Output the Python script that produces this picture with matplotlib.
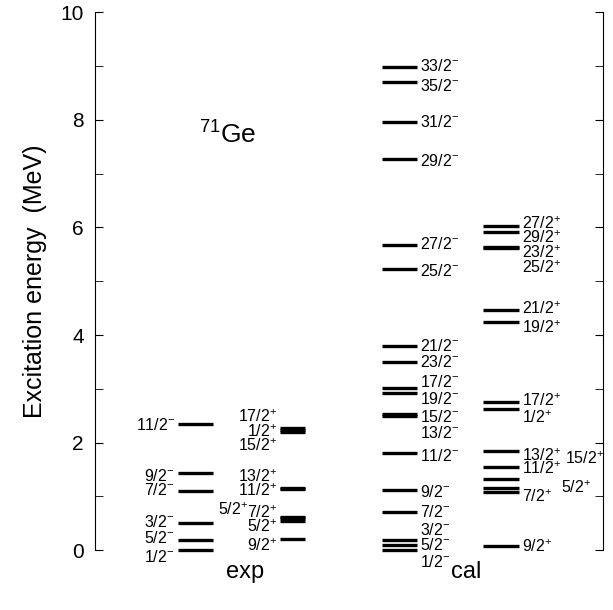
import matplotlib
matplotlib.use('Agg')
import matplotlib.pyplot as plt
from matplotlib.ticker import MultipleLocator

plt.rcParams['font.family'] = ['Liberation Sans', 'DejaVu Sans']
plt.rcParams['mathtext.fontset'] = 'custom'
plt.rcParams['mathtext.rm'] = 'Liberation Sans'
plt.rcParams['mathtext.it'] = 'Liberation Sans'

#%% level data (MeV), label text and label heights

exp_neg_spin = ['11/2', '9/2', '7/2', '3/2', '5/2', '1/2']
exp_neg_e = [2.35, 1.44, 1.10, 0.50, 0.185, 0.0]
exp_neg_lab = [2.32, 1.38, 1.11, 0.53, 0.22, -0.12]

exp_pos_spin = ['17/2', '1/2', '15/2', '13/2', '11/2', '7/2', '5/2', '9/2']
exp_pos_e = [2.27, 2.23, 2.20, 1.15, 1.13, 0.59, 0.55, 0.20]
exp_pos_lab = [2.49, 2.20, 1.95, 1.36, 1.11, 0.69, 0.43, 0.09]

# shifted 5/2+ in the exp column (label pushed to the left)
exp_pos_far_spin = ['5/2']
exp_pos_far_e = [0.62]
exp_pos_far_lab = [0.76]

cal_neg_spin = ['33/2', '35/2', '31/2', '29/2', '27/2', '25/2', '21/2', '23/2',
                '17/2', '19/2', '15/2', '13/2', '11/2', '9/2', '7/2', '3/2', '5/2', '1/2']
cal_neg_e = [8.98, 8.71, 7.95, 7.27, 5.68, 5.23, 3.80, 3.49,
             3.02, 2.93, 2.54, 2.49, 1.81, 1.11, 0.71, 0.19, 0.09, 0.0]
cal_neg_lab = [9.0, 8.63, 7.95, 7.24, 5.69, 5.19, 3.80, 3.49,
               3.12, 2.81, 2.47, 2.17, 1.76, 1.08, 0.71, 0.37, 0.09, -0.22]

cal_pos_spin = ['27/2', '29/2', '23/2', '25/2', '21/2', '19/2', '17/2', '1/2',
                '13/2', '11/2', '7/2', '9/2']
cal_pos_e = [6.02, 5.92, 5.63, 5.62, 4.47, 4.24, 2.75, 2.63,
             1.84, 1.55, 1.08, 0.08]
cal_pos_lab = [6.07, 5.81, 5.53, 5.26, 4.48, 4.14, 2.78, 2.47,
               1.76, 1.52, 0.99, 0.06]

# the two labels pushed out to the right of the cal(+) column
cal_pos_far_spin = ['15/2', '5/2']
cal_pos_far_e = [1.33, 1.16]
cal_pos_far_lab = [1.71, 1.17]

#%% column positions (x axis in arbitrary units)
exp_neg_x = (1.63, 2.32)
exp_pos_x = (3.64, 4.13)
cal_neg_x = (5.65, 6.34)
cal_pos_x = (7.64, 8.35)

fig = plt.figure(figsize=(6.13, 6.10), dpi=100)
ax = fig.add_axes([0.155, 0.098, 0.829, 0.882])

lw = 2.4
fs = 11.5


def draw_levels(energies, spins, lab_e, xr, parity, side, lab_dx=0.06):
    for e in energies:
        ax.plot(xr, [e, e], color='black', lw=lw, solid_capstyle='butt', clip_on=False)
    for s, le in zip(spins, lab_e):
        txt = s + '$^{' + parity + '}$'
        if side == 'left':
            ax.text(xr[0] - lab_dx, le, txt, ha='right', va='center', fontsize=fs)
        else:
            ax.text(xr[1] + lab_dx, le, txt, ha='left', va='center', fontsize=fs)


draw_levels(exp_neg_e, exp_neg_spin, exp_neg_lab, exp_neg_x, '-', 'left')
draw_levels(exp_pos_e, exp_pos_spin, exp_pos_lab, exp_pos_x, '+', 'left')
draw_levels(cal_neg_e, cal_neg_spin, cal_neg_lab, cal_neg_x, '-', 'right')
draw_levels(cal_pos_e, cal_pos_spin, cal_pos_lab, cal_pos_x, '+', 'right')

# labels drawn away from their column
for e in exp_pos_far_e:
    ax.plot(exp_pos_x, [e, e], color='black', lw=lw, solid_capstyle='butt')
ax.text(3.02, exp_pos_far_lab[0], exp_pos_far_spin[0] + '$^{+}$', ha='right', va='center', fontsize=fs)

for e in cal_pos_far_e:
    ax.plot(cal_pos_x, [e, e], color='black', lw=lw, solid_capstyle='butt')
ax.text(9.25, cal_pos_far_lab[0], cal_pos_far_spin[0] + '$^{+}$', ha='left', va='center', fontsize=fs)
ax.text(9.17, cal_pos_far_lab[1], cal_pos_far_spin[1] + '$^{+}$', ha='left', va='center', fontsize=fs)

ax.text(2.62, 7.72, '$^{71}$Ge', ha='center', va='center', fontsize=19)

ax.set_xlim(0, 10)
ax.set_ylim(0, 10)
ax.set_xticks([2.95, 7.3])
ax.set_xticklabels(['exp', 'cal'], fontsize=17)
ax.tick_params(axis='x', length=0, pad=8)

ax.yaxis.set_major_locator(MultipleLocator(2))
ax.yaxis.set_minor_locator(MultipleLocator(1))
ax.tick_params(axis='y', which='both', direction='in', length=6, right=True,
               labelsize=15, pad=8)
ax.set_ylabel('Excitation energy  (MeV)', fontsize=18, labelpad=10)

ax.spines['top'].set_visible(False)
ax.spines['bottom'].set_visible(False)

fig.savefig('out.png', dpi=100)
